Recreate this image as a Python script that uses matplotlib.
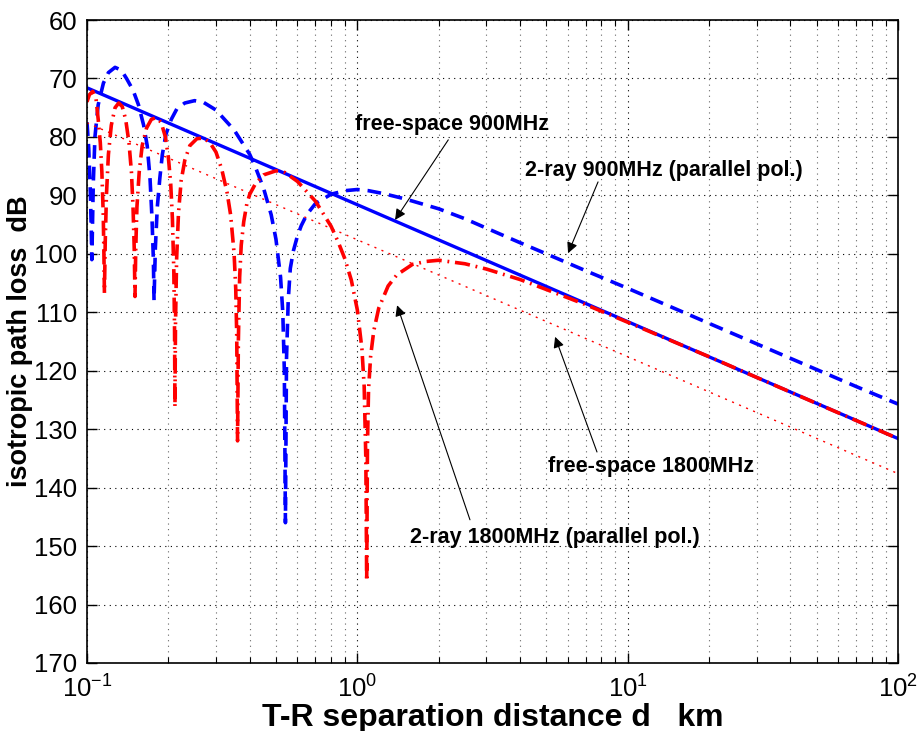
import matplotlib
matplotlib.use('Agg')
import matplotlib.pyplot as plt
from matplotlib.ticker import LogLocator, NullFormatter, MultipleLocator

plt.rcParams['font.family'] = ['Liberation Sans', 'DejaVu Sans']

# free-space path loss (straight lines on log axis)
d_fs = [0.1, 1, 10, 100]
loss_fs_900 = [71.6, 91.6, 111.6, 131.6]
loss_fs_1800 = [77.6, 97.6, 117.6, 137.6]

# 2-ray model, 900 MHz
d_2ray_900 = [0.1, 0.1015, 0.103, 0.1037, 0.1042, 0.1048, 0.1055, 0.107, 0.11, 0.115,
              0.12, 0.127, 0.134, 0.14, 0.148, 0.155, 0.162, 0.167, 0.171, 0.174,
              0.176, 0.177, 0.179, 0.182, 0.186, 0.19, 0.196, 0.205, 0.215, 0.23,
              0.25, 0.27, 0.3, 0.35, 0.4, 0.42, 0.45, 0.48, 0.5, 0.52,
              0.53, 0.537, 0.542, 0.547, 0.555, 0.565, 0.58, 0.6, 0.62, 0.65,
              0.7, 0.8, 0.9, 1.0, 1.1, 1.25, 1.5, 2, 2.5, 3,
              4, 5, 7, 10, 15, 20, 30, 50, 70, 100]
loss_2ray_900 = [77.5, 82, 90, 96, 101, 95, 88, 80, 74.5, 70.8,
                 69, 68.1, 68.6, 70, 72, 74.5, 78, 81.5, 87, 94,
                 101, 108, 99, 92, 87, 83, 79.5, 77, 75.2, 74.2,
                 73.8, 74.1, 75.4, 78.8, 83, 85.2, 88.8, 93.3, 97.5, 104,
                 110, 120, 146, 118, 108, 102.5, 99.5, 97, 95.2, 93.3,
                 91.4, 89.8, 89.2, 89.0, 89.2, 89.7, 90.6, 92.3, 94, 95.6,
                 98.1, 100, 102.9, 105.9, 109.4, 111.9, 115.4, 119.8, 122.7, 125.7]

# 2-ray model, 1800 MHz
d_2ray_1800 = [0.1, 0.102, 0.105, 0.108, 0.11, 0.112, 0.1135, 0.1148, 0.1155, 0.116,
               0.1168, 0.118, 0.12, 0.123, 0.127, 0.131, 0.135, 0.139, 0.143, 0.146,
               0.148, 0.1495, 0.1505, 0.1515, 0.153, 0.156, 0.16, 0.166, 0.173, 0.18,
               0.188, 0.195, 0.2, 0.204, 0.207, 0.2095, 0.2108, 0.2115, 0.2125, 0.2145,
               0.218, 0.223, 0.23, 0.24, 0.255, 0.27, 0.285, 0.3, 0.315, 0.33,
               0.34, 0.35, 0.355, 0.358, 0.3605, 0.363, 0.367, 0.372, 0.38, 0.39,
               0.4, 0.42, 0.45, 0.5, 0.54, 0.6, 0.7, 0.8, 0.85, 0.9,
               0.95, 1.0, 1.04, 1.06, 1.075, 1.083, 1.09, 1.1, 1.12, 1.15,
               1.2, 1.3, 1.4, 1.6, 1.8, 2.0, 2.5, 3.0, 4.0, 5.0,
               7.0, 10, 20, 50, 100]
loss_2ray_1800 = [74, 72.8, 72.2, 73.5, 77, 81, 86, 93, 100, 106.7,
                  98, 90, 83, 78, 75, 74.2, 74.8, 77, 81, 86,
                  92, 99, 107.3, 99, 92, 86, 81.5, 78.5, 77, 76.7,
                  77.5, 80, 83.5, 88, 94, 103, 113, 126.2, 112, 101,
                  93, 87.5, 84, 81.5, 80.3, 80.2, 81, 82.6, 85.5, 89.6,
                  93.4, 99.9, 106, 114, 132, 115, 104, 98.5, 94.5, 91.5,
                  89.8, 88, 86.5, 85.8, 86.1, 87.6, 91, 95.3, 98, 100.9,
                  104.5, 109.6, 116.3, 122.7, 135, 156, 133, 123.3, 117.5, 113.2,
                  109.3, 105.5, 103.6, 101.8, 101.3, 101.1, 101.7, 102.6, 104.4, 106.1,
                  108.7, 111.7, 117.6, 125.6, 131.6]

# annotation labels: text, text position, arrow tail, arrow head
labels = ['free-space 900MHz', '2-ray 900MHz (parallel pol.)',
          'free-space 1800MHz', '2-ray 1800MHz (parallel pol.)']
label_pos = [(0.98, 77.9), (4.17, 85.8), (5.08, 136.3), (1.567, 148.5)]
arrow_tail = [(2.17, 80.5), (7.77, 87.7), (7.7, 133.9), (2.61, 145.5)]
arrow_head = [(1.379, 94.2), (6.02, 99.9), (5.39, 114.2), (1.403, 108.8)]

fig = plt.figure(figsize=(9.18, 7.31), dpi=100)
ax = fig.add_axes([87/918, 68/731, 811/918, 643/731])

ax.plot(d_fs, loss_fs_900, color='b', lw=2.4, linestyle='-')
ax.plot(d_2ray_900, loss_2ray_900, color='b', lw=2.6, linestyle=(0, (3.8, 2.2)))
ax.plot(d_fs, loss_fs_1800, color='r', lw=1.0, linestyle=(0, (1.5, 4)))
ax.plot(d_2ray_1800, loss_2ray_1800, color='r', lw=2.6, linestyle=(0, (4.2, 1.6, 0.5, 1.6)))

ax.set_xscale('log')
ax.set_xlim(0.1, 100)
ax.set_ylim(170, 60)
ax.yaxis.set_major_locator(MultipleLocator(10))
ax.xaxis.set_minor_locator(LogLocator(base=10, subs=range(2, 10)))
ax.xaxis.set_minor_formatter(NullFormatter())

ax.grid(which='major', color='k', linestyle=(0, (1, 4)), lw=0.8)
ax.grid(which='minor', axis='x', color='0.4', linestyle=(0, (1, 4)), lw=0.8)
ax.tick_params(which='both', direction='in', top=True, right=True, labelsize=18.5)
ax.tick_params(which='major', length=7, width=1)
ax.tick_params(axis='y', pad=7)
ax.tick_params(axis='x', which='major', pad=9)
ax.tick_params(which='minor', length=4, width=0.8)
for s in ax.spines.values():
    s.set_linewidth(1.2)

ax.set_xlabel('T-R separation distance d   km', fontsize=23, fontweight='bold', labelpad=0)
ax.set_ylabel('isotropic path loss  dB', fontsize=19.5, fontweight='bold')
ax.yaxis.set_label_coords(-0.067, 0.5)

for txt, pos in zip(labels, label_pos):
    ax.text(pos[0], pos[1], txt, fontsize=15.5, fontweight='bold', ha='left', va='center')
for tail, head in zip(arrow_tail, arrow_head):
    ax.annotate('', xy=head, xytext=tail,
                arrowprops=dict(arrowstyle='-|>', color='k', lw=0.8,
                                mutation_scale=16, shrinkA=0, shrinkB=0))

fig.savefig('out.png', dpi=100)
